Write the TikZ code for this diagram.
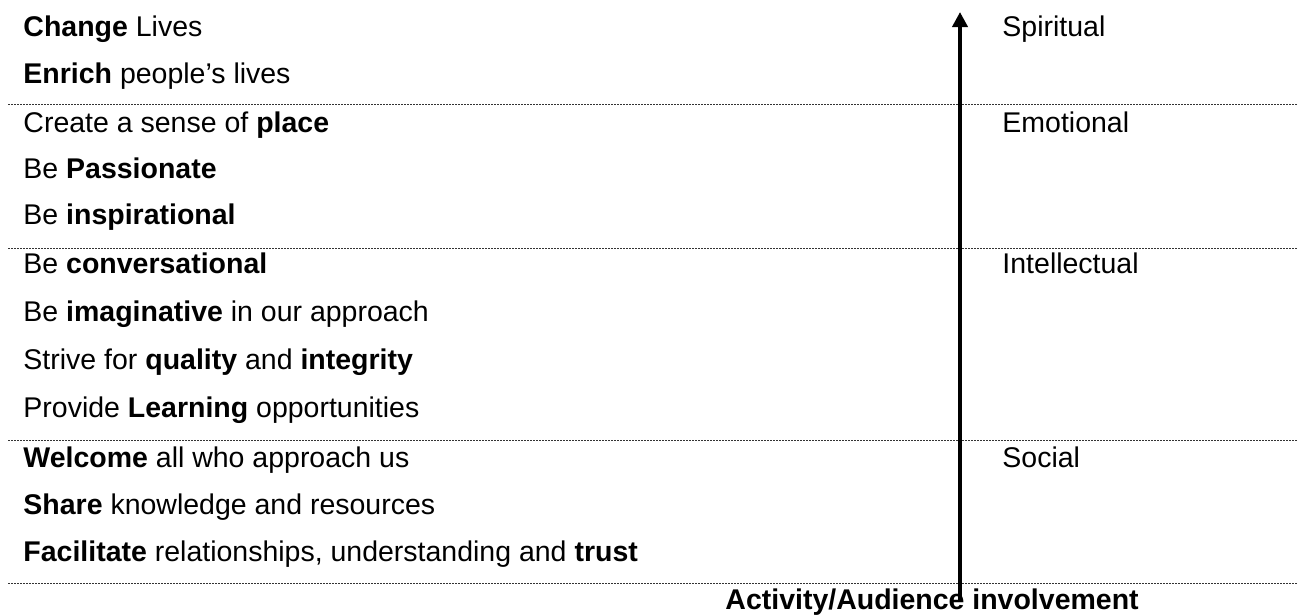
\documentclass[tikz,border=0pt]{standalone}
\usepackage{fontspec}
\setmainfont{Liberation Sans}
\usetikzlibrary{arrows.meta}

\begin{document}
\begin{tikzpicture}[
			x=0.43pt, y=-0.43pt,
			every node/.style={inner sep=0pt, font=\fontsize{12.25}{14}\selectfont},
			value/.style={anchor=base west},
			level/.style={anchor=base west},
			divider/.style={draw=black!80, line width=0.43pt, dash pattern=on 0.86pt off 0.43pt},
			axis/.style={line width=1.8pt, -{Triangle[length=6.5pt,width=6.5pt]}}
		]
		\useasboundingbox (0,0) rectangle (1306,614);

		% values
		\node[value] (change) at (23,36) {\textbf{Change} Lives};
		\node[value] (enrich) at (23,83) {\textbf{Enrich} people’s lives};
		\node[value] (place) at (23,132) {Create a sense of \textbf{place}};
		\node[value] (passion) at (23,178) {Be \textbf{Passionate}};
		\node[value] (inspire) at (23,224) {Be \textbf{inspirational}};
		\node[value] (converse) at (23,273) {Be \textbf{conversational}};
		\node[value] (imagine) at (23,321) {Be \textbf{imaginative} in our approach};
		\node[value] (quality) at (23,369) {Strive for \textbf{quality} and \textbf{integrity}};
		\node[value] (learn) at (23,417) {Provide \textbf{Learning} opportunities};
		\node[value] (welcome) at (23,467) {\textbf{Welcome} all who approach us};
		\node[value] (share) at (23,514) {\textbf{Share} knowledge and resources};
		\node[value] (facilitate) at (23,561) {\textbf{Facilitate} relationships, understanding and \textbf{trust}};

		% levels
		\node[level] (spiritual) at (1002,36) {Spiritual};
		\node[level] (emotional) at (1002,132) {Emotional};
		\node[level] (intellectual) at (1002,273) {Intellectual};
		\node[level] (social) at (1002,467) {Social};

		% dividers
		\draw[divider] (8,104) -- (1298,104);
		\draw[divider] (8,248) -- (1298,248);
		\draw[divider] (8,440) -- (1298,440);
		\draw[divider] (8,583) -- (1298,583);

		\node[anchor=base west] (involvement) at (725,609) {\textbf{Activity/Audience involvement}};

		\coordinate (axisbot) at (960,602);
		\coordinate (axistop) at (960,12);
		\draw[axis] (axisbot) -- (axistop);
	\end{tikzpicture}
\end{document}
